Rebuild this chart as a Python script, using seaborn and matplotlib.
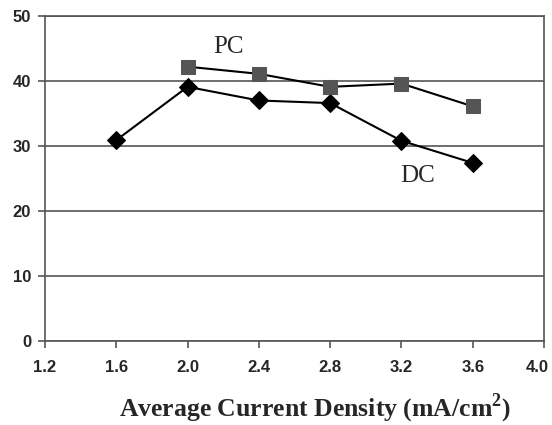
import matplotlib
matplotlib.use("Agg")
import matplotlib.pyplot as plt
import matplotlib.transforms as mtransforms
import seaborn as sns
import pandas as pd

# Data
current_density = [1.6, 2.0, 2.4, 2.8, 3.2, 3.6]
dc_values = [30.9, 39.1, 37.0, 36.6, 30.8, 27.4]
pc_density = [2.0, 2.4, 2.8, 3.2, 3.6]
pc_values = [42.2, 41.1, 39.1, 39.6, 36.1]
x_ticks = [1.2, 1.6, 2.0, 2.4, 2.8, 3.2, 3.6, 4.0]
y_ticks = [0, 10, 20, 30, 40, 50]

sns.set_theme(style="white")
plt.rcParams["font.family"] = ["Liberation Sans", "DejaVu Sans"]
plt.rcParams["mathtext.fontset"] = "custom"
plt.rcParams["mathtext.rm"] = "Liberation Serif:bold"
plt.rcParams["mathtext.bf"] = "Liberation Serif:bold"

dc = pd.DataFrame({"x": current_density, "y": dc_values})
pc = pd.DataFrame({"x": pc_density, "y": pc_values})

fig = plt.figure(figsize=(5.52, 4.25), dpi=100)
ax = fig.add_axes([0.0815, 0.1976, 0.9040, 0.7648])

sns.lineplot(data=dc, x="x", y="y", ax=ax, color="black", linewidth=1.5,
             marker="D", markersize=9, markerfacecolor="black",
             markeredgecolor="black", zorder=3)
sns.lineplot(data=pc, x="x", y="y", ax=ax, color="black", linewidth=1.5,
             marker="s", markersize=9.5, markerfacecolor="#555555",
             markeredgecolor="#555555", zorder=3)

ax.set_xlim(1.2, 4.0)
ax.set_ylim(0, 50)
ax.set_xticks(x_ticks)
ax.set_xticklabels([f"{v:.1f}" for v in x_ticks], fontsize=12, fontweight="bold")
ax.set_yticks(y_ticks)
ax.set_yticklabels([str(v) for v in y_ticks], fontsize=12, fontweight="bold")
ax.tick_params(axis="x", direction="out", length=5, width=1.2, color="#555555",
               bottom=True, pad=9)
ax.tick_params(axis="y", direction="out", length=5, width=1.2, color="#555555",
               left=True, pad=5)
ax.yaxis.grid(True, color="#555555", linewidth=1.2)
ax.xaxis.grid(False)
for s in ax.spines.values():
    s.set_color("#555555")
    s.set_linewidth(1.2)

# nudge the last x tick label inward so it stays on the canvas
last = ax.get_xticklabels()[-1]
last.set_transform(last.get_transform() +
                   mtransforms.ScaledTranslation(-7 / 100, 0, fig.dpi_scale_trans))

ax.set_ylabel("")
ax.set_xlabel(r"Average Current Density (mA/cm$^{\mathbf{2}}$)",
              fontsize=18.5, fontweight="bold", family="Liberation Serif", labelpad=10)
ax.xaxis.set_label_coords(0.541, -0.155)
ax.xaxis.label.set_va("top")

ax.text(2.23, 45.3, "PC", fontsize=18, family="Liberation Serif", ha="center", va="center")
ax.text(3.29, 25.4, "DC", fontsize=18, family="Liberation Serif", ha="center", va="center")

fig.savefig("out.png", dpi=100)
